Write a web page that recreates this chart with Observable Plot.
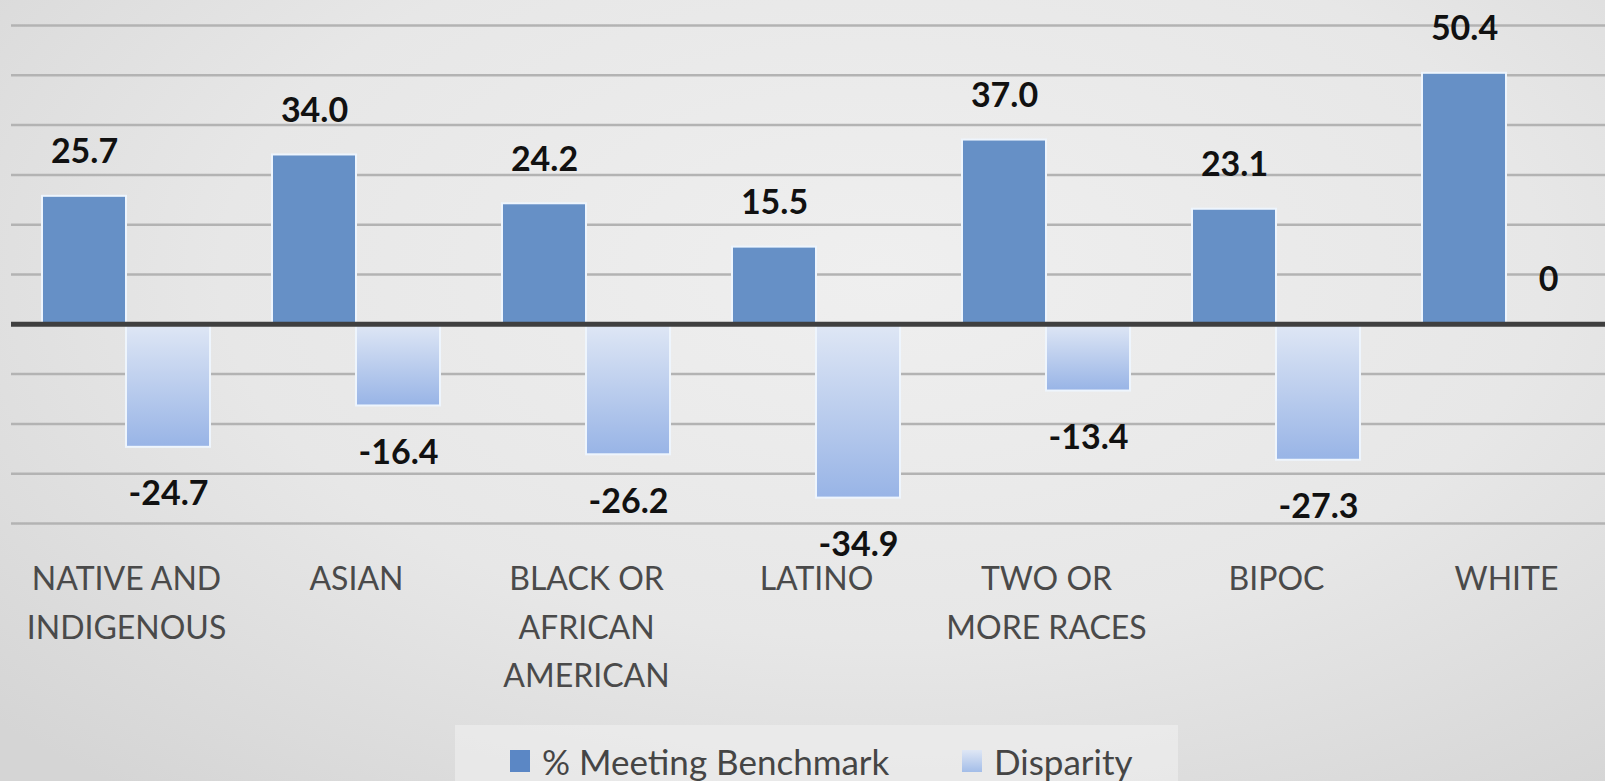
<!DOCTYPE html>
<html>
<head>
<meta charset="utf-8">
<script src="https://cdn.jsdelivr.net/npm/d3@7"></script>
<script src="https://cdn.jsdelivr.net/npm/@observablehq/plot@0.6"></script>
<style>
  html, body { margin: 0; padding: 0; width: 1605px; height: 781px; overflow: hidden; }
  body {
    background: radial-gradient(ellipse 75% 85% at 55% 35%, #efefef 0%, #e7e7e7 55%, #d5d5d5 100%);
    font-family: Lato, "Open Sans", sans-serif;
  }
  #chart svg { display: block; }
  #legend {
    position: absolute; left: 455px; top: 725px; width: 723px; height: 70px;
    background: rgba(240,240,240,0.6);
    box-sizing: border-box;
    font-family: Lato, sans-serif; font-size: 35px; line-height: 1; color: #454545; white-space: nowrap;
  }
  .item { position: absolute; top: 21px; display: flex; align-items: center; height: 30px; }
  .sw { width: 20px; height: 22px; margin-right: 12px; flex: none; }
</style>
</head>
<body>
<div id="chart"></div>
<div id="legend"></div>
<script>
const categories = ["NATIVE AND\nINDIGENOUS", "ASIAN", "BLACK OR\nAFRICAN\nAMERICAN", "LATINO", "TWO OR\nMORE RACES", "BIPOC", "WHITE"];
const series = ["% Meeting Benchmark", "Disparity"];
const benchmark = [25.7, 34.0, 24.2, 15.5, 37.0, 23.1, 50.4];
const disparity = [-24.7, -16.4, -26.2, -34.9, -13.4, -27.3, 0];
const gridTicks = [-40, -30, -20, -10, 10, 20, 30, 40, 50, 60];

const benchRows = categories.map((c, i) => ({category: c, series: series[0], value: benchmark[i]}));
const dispRows = categories.map((c, i) => ({category: c, series: series[1], value: disparity[i]}));
const allRows = benchRows.concat(dispRows);
const fmt = v => v === 0 ? "0" : v.toFixed(1);

const chart = Plot.plot({
  width: 1605,
  height: 720,
  marginLeft: 11,
  marginRight: -16,
  marginTop: 25,
  marginBottom: 197,
  style: {background: "transparent"},
  fx: {domain: categories, padding: 0},
  x: {domain: series, paddingInner: 0, paddingOuter: 0.369, axis: null},
  y: {domain: [-40, 60], axis: null},
  marks: [
    Plot.ruleY(gridTicks, {stroke: "#b3b3b3", strokeWidth: 2.5, strokeOpacity: 1}),
    Plot.barY(benchRows, {fx: "category", x: "series", y: "value", fill: "#6690c6", stroke: "#eef5fd", strokeWidth: 2}),
    Plot.barY(dispRows, {fx: "category", x: "series", y: "value", fill: "url(#dispGrad)", stroke: "#eef5fd", strokeWidth: 2}),
    Plot.ruleY([0], {stroke: "#3f3f3f", strokeWidth: 5}),
    Plot.text(allRows.filter(d => d.value >= 0), {fx: "category", x: "series", y: "value", text: d => fmt(d.value), dy: -44, fontSize: 34, fontWeight: "bold", fontFamily: "Lato", fill: "#111"}),
    Plot.text(allRows.filter(d => d.value < 0), {fx: "category", x: "series", y: "value", text: d => fmt(d.value), dy: 47, fontSize: 34, fontWeight: "bold", fontFamily: "Lato", fill: "#111"}),
    Plot.axisFx({anchor: "bottom", tickSize: 0, tickPadding: 32, fontSize: 32, fontFamily: "Lato", fill: "#4a4a4a", lineHeight: 1.52, label: null})
  ]
});

const defs = document.createElementNS("http://www.w3.org/2000/svg", "defs");
defs.innerHTML = `<linearGradient id="dispGrad" x1="0" y1="0" x2="0" y2="1">
  <stop offset="0%" stop-color="#dfe7f5"/>
  <stop offset="100%" stop-color="#98b4e6"/>
</linearGradient>`;
chart.insertBefore(defs, chart.firstChild);
document.getElementById("chart").appendChild(chart);

const legend = document.getElementById("legend");
legend.innerHTML = `
  <div class="item" style="left:55px"><div class="sw" style="background:#5b87c5"></div><span>${series[0]}</span></div>
  <div class="item" style="left:507px"><div class="sw" style="background:linear-gradient(#dfe7f5,#a3bde8)"></div><span>${series[1]}</span></div>`;
</script>
</body>
</html>
